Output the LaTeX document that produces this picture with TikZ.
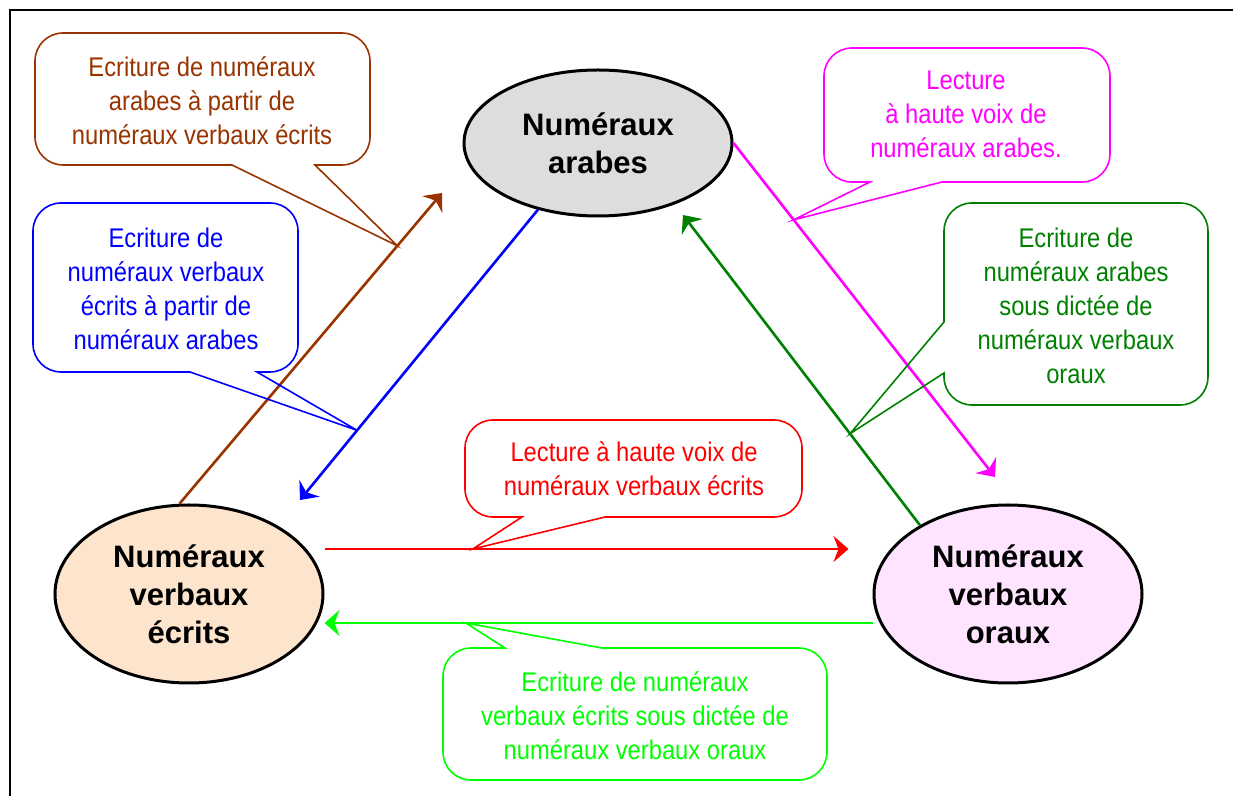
\documentclass[tikz,border=0pt]{standalone}
\usepackage{fontspec}
\setmainfont{Liberation Sans}
\newfontfamily\notefont{Liberation Sans}[FakeStretch=0.88]
\usetikzlibrary{arrows.meta,shapes.geometric}
\definecolor{rust}{HTML}{993300}
\definecolor{cobalt}{HTML}{0000FF}
\definecolor{fuchsia}{HTML}{FF00FF}
\definecolor{forest}{HTML}{008000}
\definecolor{scarlet}{HTML}{FF0000}
\definecolor{neon}{HTML}{00FF00}
\definecolor{greyfill}{HTML}{DDDDDD}
\definecolor{peach}{HTML}{FDE5CD}
\definecolor{blush}{HTML}{FFE4FF}
\tikzset{blob/.style={ellipse,draw,line width=1.5pt,inner sep=0pt,minimum width=134pt,align=center,font=\bfseries\fontsize{15.5pt}{19pt}\selectfont},note/.style={align=center,inner sep=0pt,font=\notefont\fontsize{13.5pt}{17pt}\selectfont},bubble/.style={line width=.8pt,rounded corners=14pt},flow/.style={-{Stealth[length=7.5pt,width=13pt,inset=2.5pt]},line width=1.3pt}}

\begin{document}
\begin{tikzpicture}[x=.5pt,y=-.5pt]
\useasboundingbox (0,0) rectangle (1233,796);
\draw[line width=1.2pt] (10,796) -- (10,10) -- (1233,10);
\node[blob,fill=greyfill,minimum height=73pt] (arabes) at (598,143) {Numéraux\\arabes};
\node[blob,fill=peach,minimum height=89pt] (ecrits) at (189,594) {Numéraux\\verbaux\\écrits};
\node[blob,fill=blush,minimum height=89pt] (oraux) at (1008,594) {Numéraux\\verbaux\\oraux};
\coordinate (toarabes) at (442,193);
\coordinate (toecrits) at (300,500);
\coordinate (tooraux) at (995,477);
\coordinate (backarabes) at (683,215);
\draw[flow,draw=rust] (ecrits.96) -- coordinate[pos=.83] (tipwa) (toarabes);
\draw[flow,draw=cobalt] (arabes.228) -- coordinate[pos=.76] (tipwv) (toecrits);
\draw[flow,draw=fuchsia] (arabes.east) -- coordinate[pos=.23] (tipra) (tooraux);
\draw[flow,draw=forest] (oraux.142) -- coordinate[pos=.295] (tipda) (backarabes);
\draw[flow,draw=scarlet] ([shift={(0,-45)}]ecrits.east) -- coordinate[pos=.283] (tiprv) ([shift={(-24,-45)}]oraux.west);
\draw[flow,draw=neon] ([shift={(0,29)}]oraux.west) -- coordinate[pos=.742] (tipdv) ([shift={(0,29)}]ecrits.east);
\node[note,text=rust] (writearabes) at (202,101) {Ecriture de numéraux\\arabes à partir de\\numéraux verbaux écrits};
\node[note,text=cobalt] (writeverbaux) at (166,289) {Ecriture de\\numéraux verbaux\\écrits à partir de\\numéraux arabes};
\node[note,text=fuchsia] (readarabes) at (966,114) {Lecture\\à haute voix de\\numéraux arabes.};
\node[note,text=forest] (dictarabes) at (1076,306) {Ecriture de\\numéraux arabes\\sous dictée de\\numéraux verbaux\\oraux};
\node[note,text=scarlet] (readverbaux) at (634,469) {Lecture à haute voix de\\numéraux verbaux écrits};
\node[note,text=neon] (dictverbaux) at (635,716) {Ecriture de numéraux\\verbaux écrits sous dictée de\\numéraux verbaux oraux};
\draw[bubble,draw=rust] (200,165) -- (35,165) -- (35,33) -- (370,33) -- (370,165) [sharp corners] -- (315,165) -- (tipwa) -- (232,165) -- cycle;
\draw[bubble,draw=cobalt] (150,372) -- (33,372) -- (33,203) -- (298,203) -- (298,372) [sharp corners] -- (257,372) -- (tipwv) -- (190,372) -- cycle;
\draw[bubble,draw=fuchsia] (1000,182) -- (1110,182) -- (1110,48) -- (824,48) -- (824,182) [sharp corners] -- (870,182) -- (tipra) -- (942,182) -- cycle;
\draw[bubble,draw=forest] (944,250) -- (944,203) -- (1208,203) -- (1208,405) -- (944,405) [sharp corners] -- (944,373) -- (tipda) -- (944,322) -- cycle;
\draw[bubble,draw=scarlet] (700,517) -- (802,517) -- (802,420) -- (465,420) -- (465,517) [sharp corners] -- (522,517) -- (tiprv) -- (605,517) -- cycle;
\draw[bubble,draw=neon] (700,648) -- (827,648) -- (827,780) -- (443,780) -- (443,648) [sharp corners] -- (505,648) -- (tipdv) -- (602,648) -- cycle;
\end{tikzpicture}
\end{document}
